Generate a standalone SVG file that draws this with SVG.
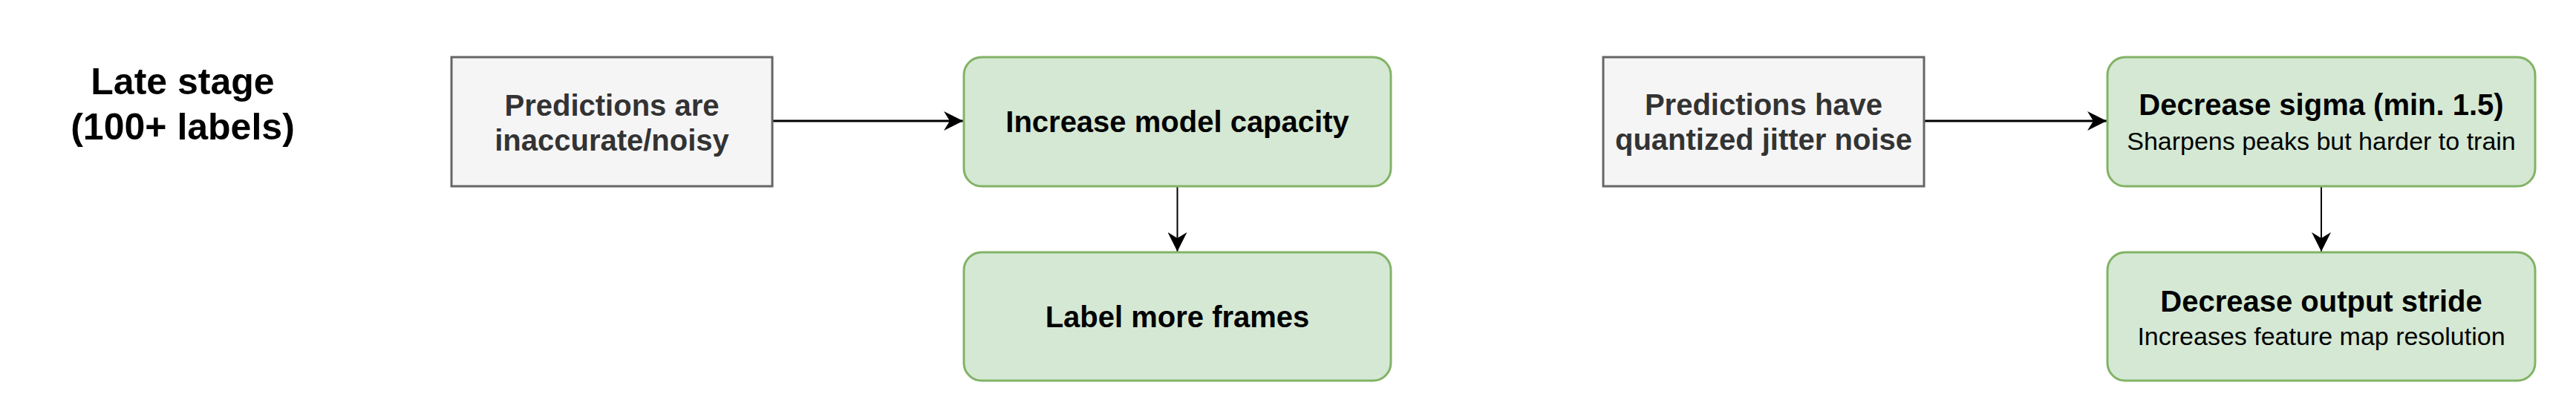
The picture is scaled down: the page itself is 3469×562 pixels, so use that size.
<svg xmlns="http://www.w3.org/2000/svg" width="3469" height="562" viewBox="0 0 3469 562">
  <style>
    text { font-family: "Liberation Sans", Arial, sans-serif; text-anchor: middle; }
    .title { font-size: 50px; font-weight: bold; fill: #000000; }
    .gray { fill: #f5f5f5; stroke: #666666; stroke-width: 3; }
    .green { fill: #d5e8d4; stroke: #82b366; stroke-width: 3; }
    .gt { font-size: 40px; font-weight: bold; fill: #333333; }
    .bt { font-size: 40px; font-weight: bold; fill: #000000; }
    .st { font-size: 34px; fill: #000000; }
    .edge { fill: none; stroke: #000000; }
  </style>
  <defs>
    <marker id="arrow" markerUnits="userSpaceOnUse" markerWidth="26" markerHeight="26" refX="26" refY="13" orient="auto" viewBox="0 0 26 26">
      <path d="M0,0 L26,13 L0,26 L8,13 Z" fill="#000000"/>
    </marker>
  </defs>
  <rect width="3469" height="562" fill="#ffffff"/>

  <g id="title">
    <text class="title" x="246" y="127">Late stage</text>
    <text class="title" x="246" y="188">(100+ labels)</text>
  </g>

  <g id="connectors">
    <line class="edge" x1="1040" y1="163" x2="1297" y2="163" stroke-width="3" marker-end="url(#arrow)"/>
    <line class="edge" x1="1585.5" y1="251" x2="1585.5" y2="339" stroke-width="2" marker-end="url(#arrow)"/>
    <line class="edge" x1="2591" y1="163" x2="2837" y2="163" stroke-width="3" marker-end="url(#arrow)"/>
    <line class="edge" x1="3126" y1="251" x2="3126" y2="339" stroke-width="2" marker-end="url(#arrow)"/>
  </g>

  <g id="inaccurate">
    <rect class="gray" x="608" y="77" width="432" height="174"/>
    <text class="gt" x="824" y="156">Predictions are</text>
    <text class="gt" x="824" y="203">inaccurate/noisy</text>
  </g>

  <g id="capacity">
    <rect class="green" x="1298" y="77" width="575" height="174" rx="24" ry="24"/>
    <text class="bt" x="1585.5" y="178">Increase model capacity</text>
  </g>

  <g id="label-more">
    <rect class="green" x="1298" y="340" width="575" height="173" rx="24" ry="24"/>
    <text class="bt" x="1585.5" y="441">Label more frames</text>
  </g>

  <g id="jitter">
    <rect class="gray" x="2159" y="77" width="432" height="174"/>
    <text class="gt" x="2375" y="155">Predictions have</text>
    <text class="gt" x="2375" y="202">quantized jitter noise</text>
  </g>

  <g id="sigma">
    <rect class="green" x="2838" y="77" width="576" height="174" rx="24" ry="24"/>
    <text class="bt" x="3126" y="155">Decrease sigma (min. 1.5)</text>
    <text class="st" x="3126" y="202">Sharpens peaks but harder to train</text>
  </g>

  <g id="stride">
    <rect class="green" x="2838" y="340" width="576" height="173" rx="24" ry="24"/>
    <text class="bt" x="3126" y="420">Decrease output stride</text>
    <text class="st" x="3126" y="465">Increases feature map resolution</text>
  </g>
</svg>
